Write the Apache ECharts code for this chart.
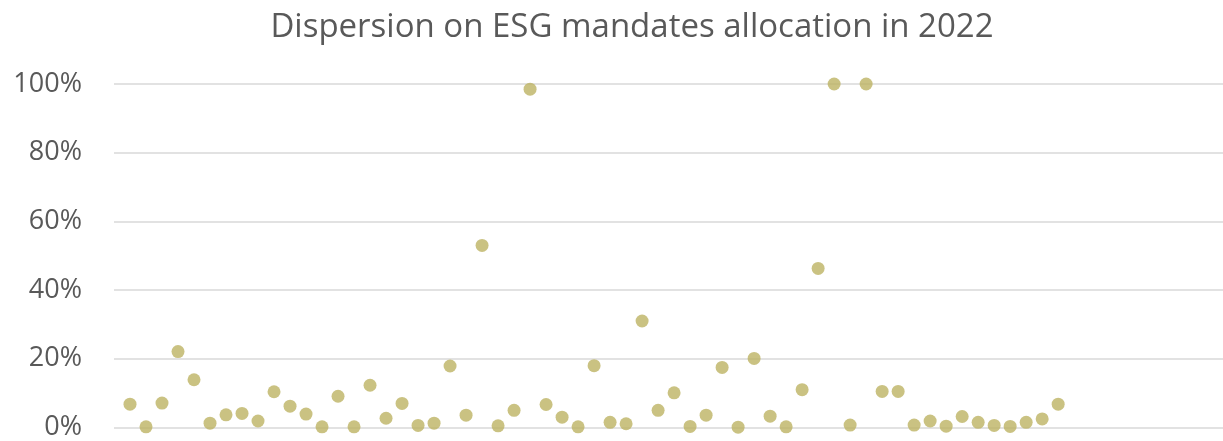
<!DOCTYPE html>
<html>
<head>
<meta charset="utf-8">
<script src="https://cdn.jsdelivr.net/npm/echarts@6/dist/echarts.min.js"></script>
<style>
html,body{margin:0;padding:0;background:#fff;}
#chart{width:1223px;height:441px;}
</style>
</head>
<body>
<div id="chart"></div>
<script>
var titleText = 'Dispersion on ESG mandates allocation in 2022';
var yTicks = [0, 0.2, 0.4, 0.6, 0.8, 1.0];
// dispersion per mandate (fraction), mandates indexed 1..59
var dispersion = [
  0.068, 0.002, 0.071, 0.221, 0.139, 0.0125, 0.037, 0.041, 0.019, 0.104,
  0.062, 0.039, 0.002, 0.091, 0.002, 0.123, 0.027, 0.070, 0.006, 0.0125,
  0.179, 0.036, 0.530, 0.005, 0.050, 0.985, 0.067, 0.030, 0.002, 0.180,
  0.015, 0.011, 0.310, 0.050, 0.101, 0.003, 0.036, 0.175, 0.001, 0.201,
  0.033, 0.002, 0.110, 0.463, 1.000, 0.007, 1.000, 0.105, 0.105, 0.007,
  0.019, 0.004, 0.032, 0.015, 0.006, 0.003, 0.015, 0.025, 0.068
];
var points = dispersion.map(function (v, i) { return [i + 1, v]; });

var chart = echarts.init(document.getElementById('chart'), null, {renderer: 'canvas'});
chart.setOption({
  animation: false,
  backgroundColor: '#ffffff',
  title: {
    text: titleText,
    left: 627,
    textAlign: 'center',
    top: 6,
    textStyle: {fontFamily: 'Open Sans', fontSize: 33, fontWeight: 'normal', color: '#595959'}
  },
  grid: {left: 114, top: 84, right: 0, height: 344, containLabel: false},
  xAxis: {
    type: 'value', min: 0, max: 69.3,
    axisLine: {show: false}, axisTick: {show: false}, axisLabel: {show: false},
    splitLine: {show: false}
  },
  yAxis: {
    type: 'value', min: yTicks[0], max: yTicks[yTicks.length - 1], interval: 0.2,
    axisLine: {show: false}, axisTick: {show: false},
    axisLabel: {
      margin: 32, fontFamily: 'Open Sans', fontSize: 27, color: '#595959',
      formatter: function (v) { return Math.round(v * 100) + '%'; }
    },
    splitLine: {lineStyle: {color: '#d9d9d9', width: 1.5}}
  },
  series: [{
    type: 'scatter',
    data: points,
    symbol: 'circle',
    symbolSize: 13,
    itemStyle: {color: '#bdb363'}
  }]
});
</script>
</body>
</html>
